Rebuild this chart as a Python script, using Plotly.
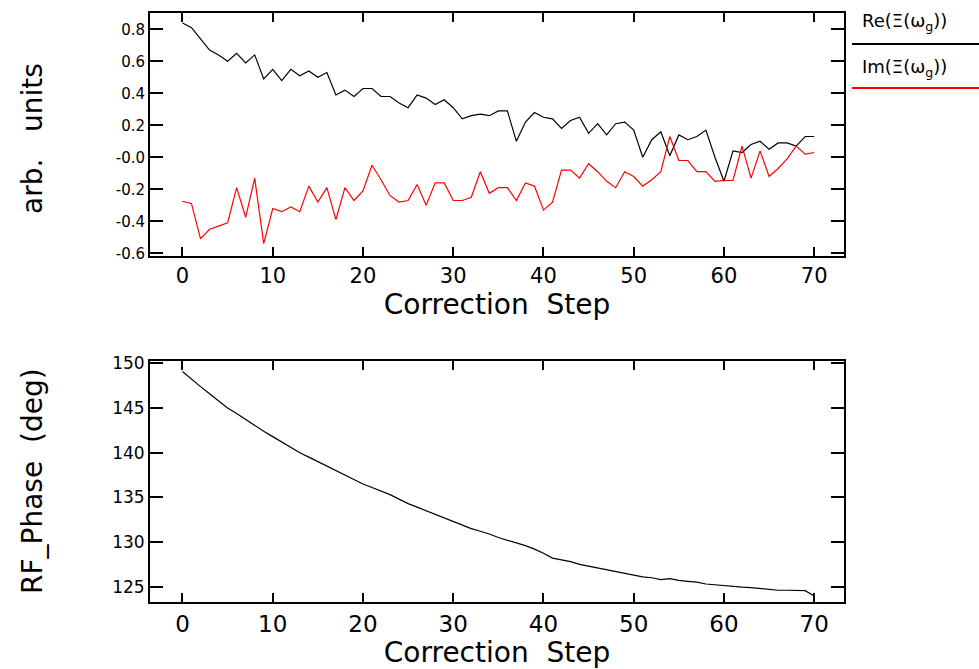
import plotly.graph_objects as go

steps = list(range(71))

re_xi = [0.84, 0.81, 0.74, 0.67, 0.64, 0.60, 0.65, 0.59, 0.64, 0.49,
         0.55, 0.48, 0.55, 0.51, 0.54, 0.50, 0.53, 0.39, 0.42, 0.38,
         0.43, 0.43, 0.38, 0.38, 0.34, 0.31, 0.39, 0.37, 0.33, 0.36,
         0.31, 0.24, 0.26, 0.27, 0.26, 0.29, 0.29, 0.10, 0.22, 0.28,
         0.25, 0.24, 0.18, 0.23, 0.25, 0.15, 0.21, 0.14, 0.21, 0.22,
         0.17, 0.00, 0.11, 0.16, 0.01, 0.14, 0.11, 0.13, 0.17, 0.00,
         -0.15, 0.04, 0.03, 0.08, 0.10, 0.05, 0.09, 0.09, 0.07, 0.13,
         0.13]

im_xi = [-0.275, -0.29, -0.51, -0.45, -0.43, -0.41, -0.19, -0.375, -0.13, -0.54,
         -0.32, -0.34, -0.31, -0.34, -0.18, -0.28, -0.19, -0.39, -0.19, -0.27,
         -0.21, -0.05, -0.14, -0.24, -0.28, -0.27, -0.17, -0.30, -0.16, -0.16,
         -0.27, -0.27, -0.25, -0.09, -0.225, -0.19, -0.19, -0.27, -0.16, -0.18,
         -0.33, -0.28, -0.08, -0.08, -0.13, -0.04, -0.09, -0.15, -0.19, -0.09,
         -0.12, -0.18, -0.14, -0.09, 0.13, -0.02, -0.02, -0.09, -0.09, -0.15,
         -0.145, -0.145, 0.07, -0.13, 0.04, -0.12, -0.07, -0.01, 0.07, 0.02,
         0.03]

rf_phase = [149.1, 148.2, 147.4, 146.6, 145.8, 145.0, 144.4, 143.7, 143.1, 142.4,
            141.8, 141.2, 140.6, 140.0, 139.5, 139.0, 138.5, 138.0, 137.5, 137.0,
            136.5, 136.1, 135.7, 135.3, 134.8, 134.3, 133.9, 133.5, 133.1, 132.7,
            132.3, 131.9, 131.5, 131.2, 130.9, 130.5, 130.2, 129.9, 129.6, 129.2,
            128.75, 128.2, 128.0, 127.8, 127.5, 127.3, 127.1, 126.9, 126.7, 126.5,
            126.3, 126.1, 126.0, 125.8, 125.9, 125.7, 125.6, 125.5, 125.3, 125.2,
            125.1, 125.0, 124.95, 124.9, 124.8, 124.7, 124.6, 124.6, 124.6, 124.55,
            123.95]

x_ticks = [0, 10, 20, 30, 40, 50, 60, 70]
top_y_ticks = [0.8, 0.6, 0.4, 0.2, 0.0, -0.2, -0.4, -0.6]
top_y_labels = ["0.8", "0.6", "0.4", "0.2", "-0.0", "-0.2", "-0.4", "-0.6"]
bot_y_ticks = [150, 145, 140, 135, 130, 125]
bot_y_labels = ["150", "145", "140", "135", "130", "125"]

FONT = "DejaVu Sans"

fig = go.Figure()
fig.add_trace(go.Scatter(x=steps, y=re_xi, mode="lines", line=dict(color="black", width=1.2),
                         xaxis="x", yaxis="y", showlegend=False, hoverinfo="skip"))
fig.add_trace(go.Scatter(x=steps, y=im_xi, mode="lines", line=dict(color="#ff0000", width=1.2),
                         xaxis="x", yaxis="y", showlegend=False, hoverinfo="skip"))
fig.add_trace(go.Scatter(x=steps, y=rf_phase, mode="lines", line=dict(color="black", width=1.2),
                         xaxis="x2", yaxis="y2", showlegend=False, hoverinfo="skip"))

xdom = [150 / 979, 844 / 979]
ax_common = dict(showline=True, linecolor="black", linewidth=2, mirror="ticks",
                 ticks="inside", tickcolor="black", tickwidth=1.5, showgrid=False,
                 zeroline=False, automargin=False)

fig.update_layout(
    width=979, height=669,
    margin=dict(l=0, r=0, t=0, b=0),
    paper_bgcolor="white", plot_bgcolor="white",
    font=dict(family=FONT, color="black"),
    xaxis=dict(domain=xdom, anchor="y", range=[-3.6, 73.3], tickvals=x_ticks,
               ticklen=9, tickfont=dict(size=21, family=FONT),
               title=dict(text="Correction  Step", font=dict(size=28, family=FONT), standoff=2),
               **ax_common),
    yaxis=dict(domain=[1 - 256 / 669, 1 - 13 / 669], anchor="x", range=[-0.617, 0.902],
               tickvals=top_y_ticks, ticktext=top_y_labels, ticklen=13,
               tickfont=dict(size=15, family=FONT),
               **ax_common),
    xaxis2=dict(domain=xdom, anchor="y2", range=[-3.6, 73.3], tickvals=x_ticks,
                ticklen=9, tickfont=dict(size=23, family=FONT),
                title=dict(text="Correction  Step", font=dict(size=28, family=FONT), standoff=0),
                **ax_common),
    yaxis2=dict(domain=[1 - 602.3 / 669, 1 - 360.7 / 669], anchor="x2", range=[123.25, 150.3],
                tickvals=bot_y_ticks, ticktext=bot_y_labels, ticklen=13,
                tickfont=dict(size=17, family=FONT),
                **ax_common),
)

# y-axis titles
fig.add_annotation(text="arb.   units", xref="paper", yref="paper", x=32 / 979, y=1 - 139 / 669,
                   textangle=-90, showarrow=False, font=dict(size=28, family=FONT),
                   xanchor="center", yanchor="middle")
fig.add_annotation(text="RF_Phase  (deg)", xref="paper", yref="paper", x=32 / 979, y=1 - 481 / 669,
                   textangle=-90, showarrow=False, font=dict(size=28, family=FONT),
                   xanchor="center", yanchor="middle")

# legend (right of top panel)
fig.add_annotation(text="Re(Ξ(ω<sub>g</sub>))", xref="paper", yref="paper", x=860 / 979, y=1 - 22 / 669,
                   showarrow=False, font=dict(size=18, family=FONT), xanchor="left", yanchor="middle")
fig.add_annotation(text="Im(Ξ(ω<sub>g</sub>))", xref="paper", yref="paper", x=860 / 979, y=1 - 68 / 669,
                   showarrow=False, font=dict(size=18, family=FONT), xanchor="left", yanchor="middle")
fig.add_shape(type="line", xref="paper", yref="paper", x0=852 / 979, x1=1.0,
              y0=1 - 44 / 669, y1=1 - 44 / 669, line=dict(color="black", width=2))
fig.add_shape(type="line", xref="paper", yref="paper", x0=852 / 979, x1=1.0,
              y0=1 - 88 / 669, y1=1 - 88 / 669, line=dict(color="#ff0000", width=2))

fig.write_html("out.html", config={"displayModeBar": False},
               post_script="document.body.style.margin='0';document.body.style.overflow='hidden';")
